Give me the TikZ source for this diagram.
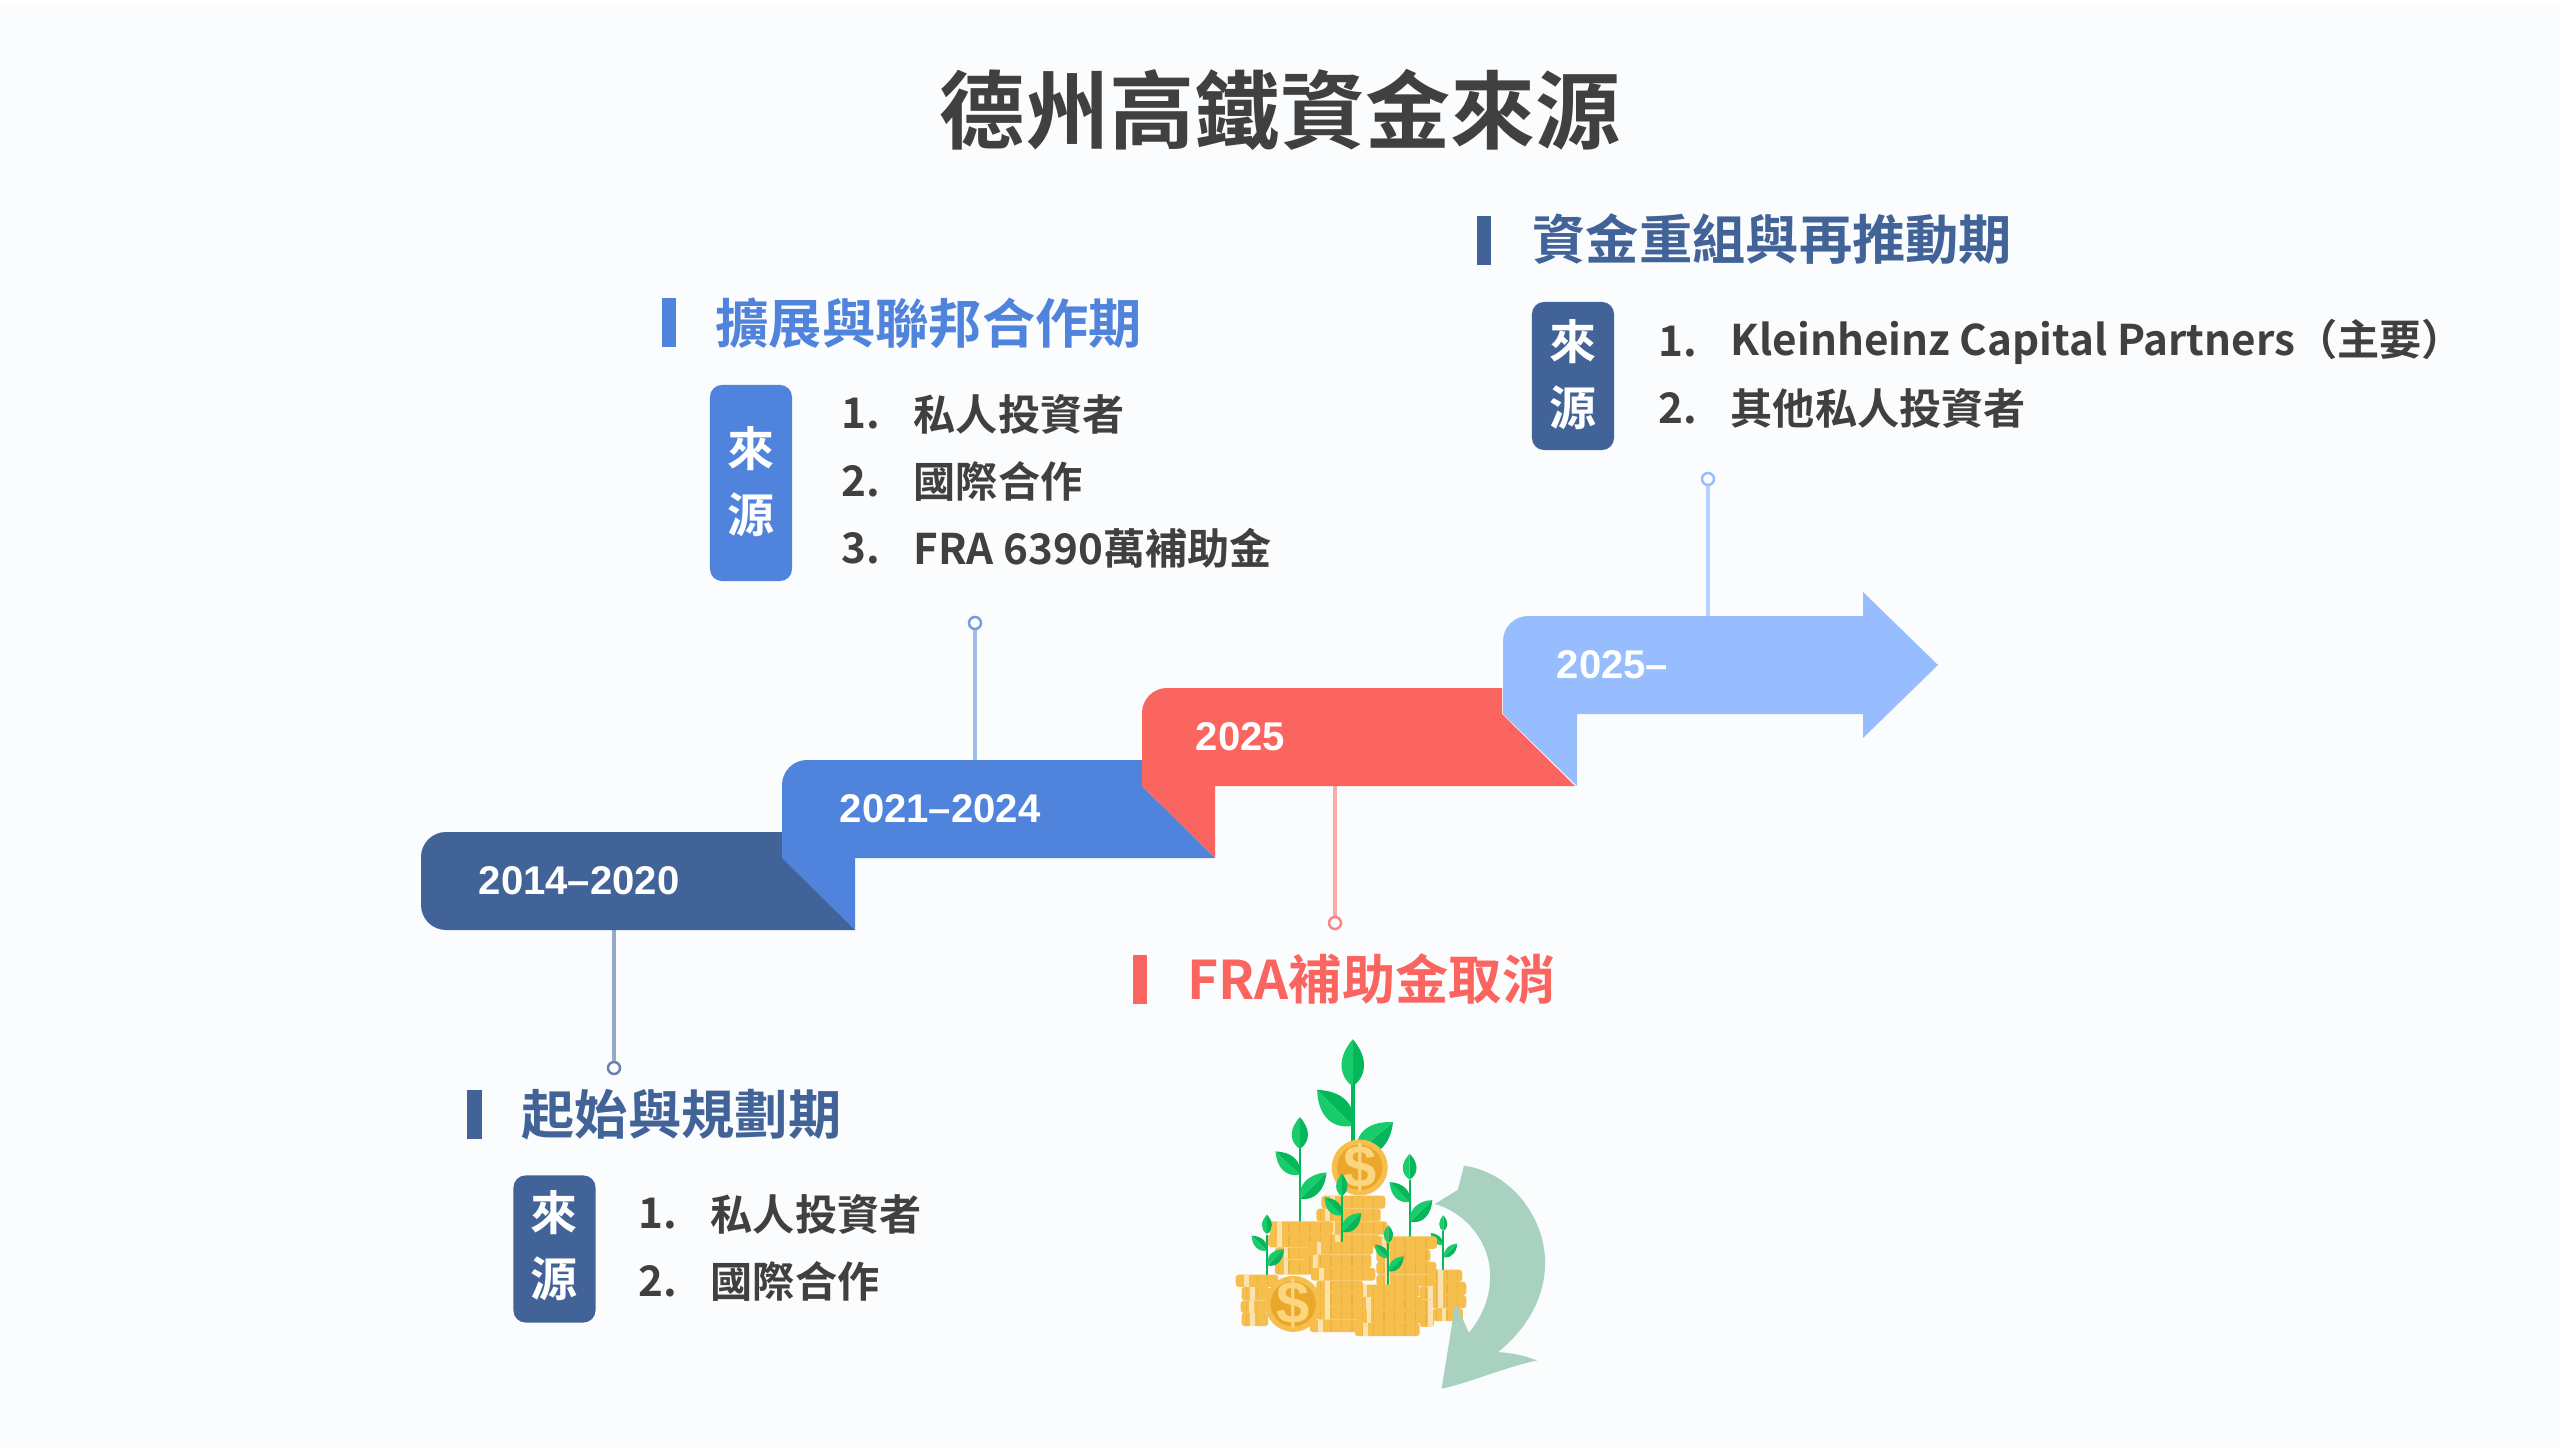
\documentclass[tikz,border=0pt]{standalone}
\usepackage{fontspec}
\setmainfont{Noto Sans CJK TC}[UprightFont=* Medium,BoldFont=* Bold]
\newfontfamily\yearfont{Liberation Sans}
\usetikzlibrary{patterns}

\definecolor{pagebg}{HTML}{FAFCFE}
\definecolor{stepdark}{HTML}{426398}
\definecolor{stepblue}{HTML}{5083DB}
\definecolor{stepred}{HTML}{FA6560}
\definecolor{steplight}{HTML}{97BDFF}
\definecolor{inktext}{HTML}{404040}
\definecolor{coinfill}{HTML}{F6BE4C}
\definecolor{coinrib}{HTML}{EDB23F}
\definecolor{coinpale}{HTML}{FBE3B0}
\definecolor{coinface}{HTML}{EBA72A}
\definecolor{coinmark}{HTML}{FBD67E}
\definecolor{leaflight}{HTML}{1ACB6B}
\definecolor{leafdark}{HTML}{05B75A}
\definecolor{turnarrow}{HTML}{A8D1BF}

\tikzset{
  titletext/.style={inner sep=0pt,text=inktext,font=\fontsize{24.2}{29}\selectfont\bfseries},
  headtext/.style={anchor=west,inner sep=0pt,font=\fontsize{15.15}{18}\selectfont\bfseries},
  listtext/.style={anchor=west,inner sep=0pt,text=inktext,font=\fontsize{12}{14}\selectfont\bfseries},
  yeartext/.style={anchor=west,inner sep=0pt,text=white,font=\fontsize{11.4}{14}\selectfont\yearfont\bfseries},
  srcbox/.style={rounded corners=0.12cm,text=white,align=center,inner sep=0pt,minimum width=0.82cm,
    text depth=0.076cm,font=\fontsize{13.4}{18.8}\selectfont\bfseries},
  dotend/.style={circle,draw,fill=pagebg,line width=0.7pt,inner sep=0pt,minimum size=0.12cm},
  linkline/.style={line width=1pt},
}

% one stair piece: colour, left x, top y
\newcommand{\stairpiece}[3]{
  \fill[#1] (#2,#3+98) -- (#2+73,#3+170) -- (#2+73,#3+98) -- (#2+433,#3+98)
    -- (#2+360,#3+26) -- (#2+360,#3) [rounded corners=0.25cm] -- (#2,#3) [sharp corners] -- cycle;
}
% one row of coins: x1, x2, y1, y2
\newcommand{\coinrow}[4]{
  \fill[coinfill,rounded corners=0.03cm] (#1,#3) rectangle (#2,#4);
  \fill[pattern=vertical lines,pattern color=coinrib] (#1+8,#3+6) rectangle (#2-8,#4-6);
  \fill[coinpale] (#1+26,#3) rectangle (#1+40,#4);
}
% one leaf: base x, base y, tip x, tip y, half width
\newcommand{\leafshape}[5]{
  \pgfmathsetmacro\nx{-(#4-#2)/veclen(#3-#1,#4-#2)*#5}
  \pgfmathsetmacro\ny{(#3-#1)/veclen(#3-#1,#4-#2)*#5}
  \fill[leafdark] (#1,#2) .. controls ({#1+0.25*(#3-#1)+1.3*\nx},{#2+0.25*(#4-#2)+1.3*\ny})
    and ({#1+0.65*(#3-#1)+1.2*\nx},{#2+0.65*(#4-#2)+1.2*\ny}) .. (#3,#4) -- cycle;
  \fill[leaflight] (#1,#2) .. controls ({#1+0.25*(#3-#1)-1.3*\nx},{#2+0.25*(#4-#2)-1.3*\ny})
    and ({#1+0.65*(#3-#1)-1.2*\nx},{#2+0.65*(#4-#2)-1.2*\ny}) .. (#3,#4) -- cycle;
}
% big coin: x, y, name
\newcommand{\bigcoin}[3]{
  \fill[coinfill] (#1,#2) circle (84);
  \fill[coinface] (#1,#2) circle (68);
  \node[inner sep=0pt,text=coinmark,font=\fontsize{17}{20}\selectfont\yearfont\bfseries] (#3) at (#1,#2) {\$};
}

\begin{document}
\begin{tikzpicture}[x=0.01cm,y=-0.01cm]
  \useasboundingbox (0,0) rectangle (2560,1449);
  \fill[white] (0,0) rectangle (2560,1449);
  \fill[pagebg] (0,6) rectangle (2560,1449);

% title
  \node[titletext] (title) at (1280,110) {德州高鐵資金來源};

% stairs
  \coordinate (stair1) at (614,930);
  \coordinate (stair2) at (975,760);
  \coordinate (stair3) at (1335,786);
  \coordinate (stair4) at (1708,616);
  \node[dotend,draw=stepdark!80]  (end1) at (614,1068) {};
  \node[dotend,draw=stepblue!80]  (end2) at (975,623) {};
  \node[dotend,draw=stepred!80]   (end3) at (1335,923) {};
  \node[dotend,draw=steplight] (end4) at (1708,479) {};
  \draw[linkline,stepdark!55]  (stair1) -- (end1);
  \draw[linkline,stepblue!55]  (stair2) -- (end2);
  \draw[linkline,stepred!55]   (stair3) -- (end3);
  \draw[linkline,steplight!70] (stair4) -- (end4);

  \fill[stepdark] (855,930) [rounded corners=0.25cm] -- (421,930) -- (421,832) [sharp corners] -- (800,832) -- (855,930) -- cycle;
  \stairpiece{stepblue}{782}{760}
  \stairpiece{stepred}{1142}{688}
  \fill[steplight] (1503,714) -- (1577,786) -- (1577,714) -- (1863,714) -- (1863,738) -- (1938,665)
    -- (1863,592) -- (1863,616) [rounded corners=0.25cm] -- (1503,616) [sharp corners] -- cycle;

  \node[yeartext] (year1) at (478,881) {2014–2020};
  \node[yeartext] (year2) at (839,809) {2021–2024};
  \node[yeartext] (year3) at (1195,737) {2025};
  \node[yeartext] (year4) at (1556,665) {2025–};

% first period
  \fill[stepdark] (467,1090) rectangle (482,1139);
  \node[headtext,text=stepdark] (head1) at (521,1115) {起始與規劃期};
  \node[srcbox,fill=stepdark,minimum height=1.47cm,text depth=0.116cm] (src1) at (554.5,1249) {來\\源};
  \node[listtext] (num11) at (638,1214) {1.};
  \node[listtext] (item11) at (710,1214) {私人投資者};
  \node[listtext] (num12) at (638,1281) {2.};
  \node[listtext] (item12) at (710,1281) {國際合作};

% second period
  \fill[stepblue] (662,298) rectangle (676,347);
  \node[headtext,text=stepblue] (head2) at (715,323) {擴展與聯邦合作期};
  \node[srcbox,fill=stepblue,minimum height=1.96cm] (src2) at (751,483) {來\\源};
  \node[listtext] (num21) at (841,414) {1.};
  \node[listtext] (item21) at (913,414) {私人投資者};
  \node[listtext] (num22) at (841,481) {2.};
  \node[listtext] (item22) at (913,481) {國際合作};
  \node[listtext] (num23) at (841,548) {3.};
  \node[listtext] (item23) at (913,548) {FRA 6390萬補助金};

% cancelled grant
  \fill[stepred] (1133,955) rectangle (1147,1004);
  \node[headtext,text=stepred] (head3) at (1187,979) {FRA補助金取消};

% third period
  \fill[stepdark] (1477,216) rectangle (1491,265);
  \node[headtext,text=stepdark] (head4) at (1532,239) {資金重組與再推動期};
  \node[srcbox,fill=stepdark,minimum height=1.48cm] (src4) at (1573,376) {來\\源};
  \node[listtext] (num41) at (1658,342) {1.};
  \node[listtext] (item41) at (1730,342) {Kleinheinz Capital Partners（主要）};
  \node[listtext] (num42) at (1658,408) {2.};
  \node[listtext] (item42) at (1730,408) {其他私人投資者};

% coins and plants, in thirds of a pixel
  \begin{scope}[shift={(1200,1020)},x=0.003333cm,y=-0.003333cm]
    % tall plants behind the coins
    \fill[leafdark] (455,120) rectangle (465,400);
    \leafshape{459}{200}{459}{58}{36}
    \leafshape{459}{318}{352}{210}{42}
    \leafshape{470}{400}{580}{307}{40}
    \fill[leafdark] (297,385) rectangle (303,610);
    \leafshape{300}{388}{300}{292}{26}
    \leafshape{300}{465}{227}{395}{27}
    \leafshape{300}{538}{380}{458}{28}
    \fill[leafdark] (627,480) rectangle (633,655);
    \leafshape{630}{480}{630}{402}{22}
    \leafshape{630}{547}{570}{487}{22}
    \leafshape{632}{607}{698}{541}{24}
    \fill[leafdark] (728,635) rectangle (734,755);
    \leafshape{731}{635}{731}{587}{13}
    \leafshape{731}{677}{693}{640}{12}
    \leafshape{733}{713}{773}{672}{14}
    % right stacks
    \coinrow{690}{788}{750}{787}
    \coinrow{690}{800}{787}{827}
    \coinrow{690}{800}{827}{866}
    \coinrow{700}{790}{866}{905}
    \coinrow{520}{712}{650}{688}
    \coinrow{530}{692}{688}{727}
    \coinrow{530}{710}{727}{765}
    \coinrow{530}{700}{765}{800}
    \coinrow{660}{705}{800}{840}
    \coinrow{660}{700}{840}{880}
    \coinrow{660}{703}{880}{922}
    % back stacks
    \coinrow{365}{557}{528}{567}
    \coinrow{350}{543}{567}{605}
    \coinrow{365}{563}{605}{645}
    \coinrow{380}{540}{645}{680}
    \coinrow{205}{400}{605}{643}
    \coinrow{205}{405}{643}{683}
    \coinrow{225}{345}{683}{720}
    \coinrow{225}{345}{720}{765}
    \bigcoin{480}{443}{coin1}
    % plants in front of the back stacks
    \fill[leafdark] (423,530) rectangle (429,668);
    \leafshape{426}{530}{426}{462}{18}
    \leafshape{426}{587}{374}{533}{20}
    \leafshape{428}{637}{484}{580}{22}
    \fill[leafdark] (198,645) rectangle (204,768);
    \leafshape{201}{643}{201}{585}{16}
    \leafshape{201}{693}{155}{648}{17}
    \leafshape{203}{738}{252}{688}{19}
    % front stacks
    \coinrow{325}{520}{667}{705}
    \coinrow{315}{515}{705}{745}
    \coinrow{333}{527}{745}{783}
    \coinrow{350}{490}{783}{820}
    \coinrow{350}{490}{820}{860}
    \coinrow{350}{490}{860}{900}
    \coinrow{330}{490}{900}{938}
    \coinrow{107}{235}{765}{802}
    \coinrow{125}{210}{802}{843}
    \coinrow{122}{205}{843}{880}
    \coinrow{125}{205}{880}{920}
    \bigcoin{280}{853}{coin2}
    \fill[leafdark] (563,670) rectangle (569,798);
    \leafshape{566}{670}{566}{617}{15}
    \leafshape{566}{715}{525}{675}{15}
    \leafshape{568}{755}{612}{710}{16}
    \coinrow{463}{660}{795}{832}
    \coinrow{473}{668}{832}{872}
    \coinrow{475}{670}{872}{910}
    \coinrow{465}{660}{910}{950}
    % turning arrow
    \fill[turnarrow] (793,438) .. controls (930,455) and (1037,590) .. (1037,730)
      .. controls (1037,840) and (975,935) .. (895,998)
      .. controls (940,1000) and (980,1010) .. (1013,1023)
      .. controls (910,1045) and (810,1090) .. (726,1108)
      .. controls (740,1020) and (755,930) .. (767,848)
      -- (808,940) .. controls (850,890) and (872,830) .. (872,770)
      .. controls (872,660) and (790,575) .. (705,553)
      -- (775,510) -- cycle;
  \end{scope}
\end{tikzpicture}
\end{document}
